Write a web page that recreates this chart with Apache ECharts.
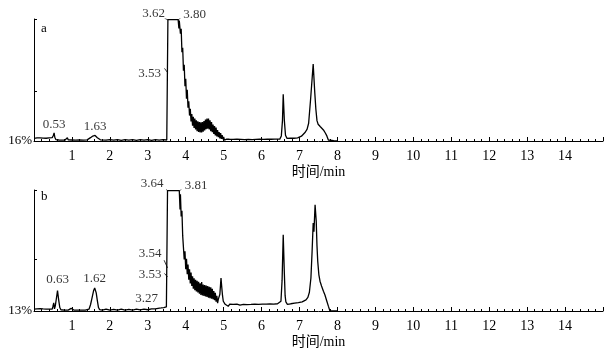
<!DOCTYPE html>
<html><head><meta charset="utf-8">
<script src="https://cdn.jsdelivr.net/npm/echarts@6/dist/echarts.min.js"></script>
<style>html,body{margin:0;padding:0;background:#fff}#c{width:611px;height:356px}</style>
</head><body><div id="c"></div>
<script>
const FONT = '"Liberation Serif", "Noto Sans CJK SC", serif';
const xTicks = [1,2,3,4,5,6,7,8,9,10,11,12,13,14];
const yTicksA = [50, 100];
const yTicksB = [50, 100];
const yLabelA = [16];
const yLabelB = [13];

// chromatogram a : [time/min, relative %]
const traceA = [
[0,17.8],[0.04,16.9],[0.08,18.1],[0.12,17.1],[0.16,18.2],[0.2,17.2],[0.24,18.0],[0.28,17.0],[0.32,17.9],[0.36,17.1],[0.40,18.1],[0.44,17.3],[0.48,18.3],[0.51,19.8],[0.53,21.6],[0.55,18.4],[0.58,16.9],[0.62,17.5],[0.66,16.7],[0.70,17.3],[0.74,16.6],[0.78,17.2],[0.82,16.7],[0.86,17.4],[0.88,18.3],[0.90,16.8],[0.95,17.3],[1.0,16.7],[1.05,17.2],[1.10,16.6],[1.15,17.2],[1.20,16.7],[1.25,17.2],[1.30,16.6],[1.35,17.2],[1.40,16.8],[1.45,17.5],[1.49,18.3],[1.52,19.0],[1.55,19.4],[1.58,19.0],[1.61,19.8],[1.64,19.2],[1.67,18.3],[1.70,17.2],[1.75,16.8],[1.8,17.1],[1.9,16.6],[2.0,17.0],[2.1,16.6],[2.2,16.9],[2.3,16.5],[2.4,16.9],[2.5,16.6],[2.6,16.9],[2.7,16.5],[2.8,16.9],[2.9,16.6],[3.0,16.9],[3.1,16.5],[3.2,16.9],[3.3,16.6],[3.4,16.9],[3.5,16.7],[3.525,16.7],
[3.53,99.6],[3.80,99.6],[3.81,99.4],[3.82,93.5],[3.83,99.0],[3.84,98.1],[3.86,89.9],[3.88,93.3],[3.90,77.1],[3.92,80.2],[3.94,64.4],[3.96,68.5],[3.98,53.7],[4.00,58.9],[4.02,45.1],[4.04,51.3],[4.06,38.9],[4.08,43.4],[4.10,33.5],[4.12,38.1],[4.14,29.4],[4.16,34.6],[4.18,26.6],[4.20,32.6],[4.22,25.0],[4.24,31.4],[4.26,23.9],[4.28,30.3],[4.30,22.8],[4.32,29.5],[4.34,22.2],[4.36,29.0],[4.38,21.9],[4.40,28.8],[4.42,21.9],[4.44,29.1],[4.46,22.4],[4.48,29.8],[4.50,23.2],[4.52,30.7],[4.54,24.1],[4.56,31.4],[4.58,24.5],[4.60,31.5],[4.62,24.0],[4.64,30.3],[4.66,22.7],[4.68,29.0],[4.70,22.0],[4.72,27.4],[4.74,20.9],[4.76,26.3],[4.78,19.8],[4.80,25.2],[4.82,19.1],[4.84,23.6],[4.86,18.6],[4.88,22.2],[4.90,17.8],[4.92,21.4],[4.94,17.5],[4.96,20.1],[4.98,17.2],[5.00,18.9],[5.02,16.6],[5.04,17.9],[5.06,16.4],[5.08,17.3],[5.10,16.7],
[5.15,17.2],[5.2,16.6],[5.25,17.1],[5.3,16.5],[5.35,17.2],[5.4,16.6],[5.45,17.1],[5.5,16.5],[5.55,17.0],[5.6,16.6],[5.65,17.1],[5.7,16.5],[5.75,17.0],[5.8,16.6],[5.85,17.1],[5.9,16.5],[5.95,17.2],[6.0,16.6],[6.05,17.1],[6.1,16.6],[6.15,17.2],[6.2,16.7],[6.25,17.2],[6.3,16.7],[6.35,17.3],[6.4,16.9],[6.48,17.3],[6.52,19.5],[6.55,30.0],[6.57,48.2],[6.60,30.0],[6.63,20.0],[6.67,17.8],[6.72,17.2],[6.76,17.9],[6.8,17.2],[6.85,17.9],[6.9,17.4],[6.95,18.2],[7.0,18.6],[7.05,19.3],[7.10,20.6],[7.15,22.0],[7.20,24.2],[7.24,28.2],[7.29,44.2],[7.36,69.0],[7.40,50.0],[7.43,38.0],[7.46,30.0],[7.49,27.5],[7.52,26.4],[7.55,25.8],[7.59,24.8],[7.63,23.6],[7.68,21.5],[7.72,19.5],[7.76,16.7],[7.80,16.3],[7.9,16.2],[8.0,16.1]
];

// chromatogram b : [time/min, relative %]
const traceB = [
[0,14.4],[0.04,13.5],[0.08,14.6],[0.12,13.7],[0.16,14.7],[0.2,13.8],[0.24,14.5],[0.28,13.6],[0.32,14.4],[0.36,13.7],[0.40,14.3],[0.44,13.6],[0.48,14.4],[0.50,16.5],[0.52,18.8],[0.54,14.5],[0.56,16.5],[0.59,22.0],[0.62,27.6],[0.65,21.0],[0.68,15.5],[0.71,13.9],[0.75,14.4],[0.8,13.7],[0.85,14.3],[0.9,13.6],[0.95,14.3],[0.98,14.9],[1.0,14.0],[1.05,13.7],[1.1,14.3],[1.15,13.6],[1.2,14.2],[1.25,13.7],[1.3,14.3],[1.35,13.7],[1.40,14.2],[1.45,14.3],[1.49,17.5],[1.53,22.5],[1.57,27.5],[1.60,29.5],[1.62,28.8],[1.64,26.0],[1.67,20.5],[1.70,15.5],[1.73,14.0],[1.8,13.7],[1.9,14.3],[2.0,13.6],[2.1,14.2],[2.2,13.7],[2.3,14.3],[2.4,13.7],[2.5,14.2],[2.6,13.7],[2.7,14.3],[2.8,13.8],[2.9,14.4],[3.0,13.9],[3.1,14.5],[3.2,14.6],[3.27,14.9],[3.35,15.2],[3.42,15.5],[3.49,15.9],[3.515,16.2],
[3.52,99.6],[3.83,99.6],[3.84,99.0],[3.85,86.0],[3.86,97.0],[3.88,81.0],[3.90,85.0],[3.92,67.0],[3.94,66.0],[3.96,50.0],[3.98,56.0],[4.00,43.0],[4.02,50.5],[4.04,39.5],[4.06,46.5],[4.08,35.5],[4.10,43.0],[4.12,32.8],[4.14,40.7],[4.16,31.0],[4.18,38.0],[4.20,29.1],[4.22,36.5],[4.24,28.0],[4.26,35.5],[4.28,27.0],[4.30,34.7],[4.32,26.3],[4.34,34.0],[4.36,25.5],[4.38,33.0],[4.40,24.5],[4.42,33.8],[4.44,24.2],[4.46,32.0],[4.48,23.8],[4.50,31.6],[4.52,23.4],[4.54,31.3],[4.56,23.1],[4.58,30.9],[4.60,22.6],[4.62,30.4],[4.64,22.2],[4.66,30.0],[4.68,21.9],[4.70,28.9],[4.72,21.4],[4.74,27.4],[4.76,20.8],[4.78,26.0],[4.80,19.7],[4.82,23.9],[4.84,18.7],[4.86,21.5],[4.88,20.5],[4.90,25.0],[4.92,33.0],[4.93,36.7],[4.95,30.0],[4.97,24.0],[4.99,20.0],[5.01,18.8],[5.04,17.8],[5.08,17.5],
[5.12,16.4],[5.16,17.9],[5.2,16.5],[5.25,17.8],[5.3,16.6],[5.35,17.9],[5.4,18.6],[5.43,17.2],[5.48,16.4],[5.52,17.8],[5.57,16.4],[5.62,17.6],[5.67,16.3],[5.72,17.7],[5.77,16.5],[5.82,17.9],[5.87,16.6],[5.92,17.8],[5.97,16.5],[6.02,17.9],[6.07,16.7],[6.12,18.0],[6.17,16.7],[6.22,18.1],[6.27,16.8],[6.32,18.0],[6.37,16.9],[6.42,18.2],[6.47,17.6],[6.51,20.0],[6.54,35.0],[6.57,67.9],[6.60,40.0],[6.62,24.0],[6.64,19.5],[6.68,17.8],[6.72,17.0],[6.77,18.2],[6.82,17.3],[6.87,18.6],[6.92,17.8],[6.97,19.0],[7.02,18.4],[7.07,19.6],[7.12,19.8],[7.17,21.0],[7.22,22.8],[7.26,26.5],[7.30,36.7],[7.33,55.0],[7.36,76.3],[7.38,70.0],[7.41,89.4],[7.44,77.7],[7.46,60.0],[7.48,48.7],[7.51,39.0],[7.54,34.4],[7.58,31.0],[7.63,27.2],[7.67,24.5],[7.72,20.0],[7.76,16.5],[7.80,13.2],[7.85,13.0],[8.0,13.0]
];

// retention-time annotations: [time, level, text]
const peakLabelsA = [[0.53,21.6,'0.53'],[1.61,19.7,'1.63'],[3.53,63.5,'3.53'],[3.53,99.6,'3.62'],[3.80,99.6,'3.80']];
const peakLabelsB = [[0.62,27.6,'0.63'],[1.60,29.5,'1.62'],[3.27,14.9,'3.27'],[3.52,37.5,'3.53'],[3.52,44.0,'3.54'],[3.52,99.6,'3.64'],[3.84,99.6,'3.81']];
// leader ticks: [[t1,v1],[t2,v2]]
const leadersA = [[[3.44,100.6],[3.53,99.4]],[[3.80,99.4],[3.92,102.0]],[[3.44,66.0],[3.53,62.8]]];
const leadersB = [[[3.42,103.0],[3.52,99.4]],[[3.84,99.4],[3.95,102.5]],[[3.43,49.5],[3.52,44.0]],[[3.44,40.0],[3.52,37.5]]];

const placeA = [
  {position:'top',distance:2},
  {position:'top',distance:3},
  {position:'left',distance:7,offset:[0,2]},
  {position:'left',distance:3,offset:[0,-6]},
  {position:'right',distance:5,offset:[0,-5]}
];
const placeB = [
  {position:'top',distance:5},
  {position:'top',distance:3},
  {position:'left',distance:0,offset:[0,-10]},
  {position:'left',distance:6,offset:[0,-2]},
  {position:'left',distance:6,offset:[0,-14]},
  {position:'left',distance:4,offset:[0,-7]},
  {position:'right',distance:5,offset:[0,-5]}
];

function xAxisCfg(gi){
  return {
    type:'value', gridIndex:gi, min:0, max:15, interval:1,
    axisLine:{onZero:false, lineStyle:{color:'#000',width:1}},
    axisTick:{inside:true,length:4,lineStyle:{color:'#000',width:1}},
    minorTick:{show:true,splitNumber:5,length:2,lineStyle:{color:'#000',width:1}},
    splitLine:{show:false}, minorSplitLine:{show:false},
    axisLabel:{customValues:xTicks, margin:8, color:'#000', fontSize:14, fontFamily:FONT},
    name:'时间/min', nameLocation:'middle', nameGap:24,
    nameTextStyle:{color:'#000', fontSize:14, fontFamily:FONT}
  };
}
function yAxisCfg(gi, mn, ticks, labs){
  return {
    type:'value', gridIndex:gi, min:mn, max:100,
    axisLine:{show:true, lineStyle:{color:'#000',width:1}},
    axisTick:{show:true, inside:true, length:3, customValues:ticks, lineStyle:{color:'#000'}},
    axisLabel:{customValues:labs, formatter:'{value}%', margin:2, color:'#000', fontSize:13, fontFamily:FONT},
    splitLine:{show:false}
  };
}
function traceSeries(idx, data){
  return {type:'line', xAxisIndex:idx, yAxisIndex:idx, data:data, showSymbol:false, symbol:'none',
    lineStyle:{color:'#000', width:1.3}, silent:true};
}
function labelSeries(idx, labs, place){
  return {type:'scatter', xAxisIndex:idx, yAxisIndex:idx, symbolSize:0, silent:true,
    data: labs.map((d,i)=>({value:[d[0],d[1]], label:Object.assign({show:true, formatter:d[2], color:'#000', fontSize:13, fontFamily:FONT}, place[i])}))};
}
function leaderSeries(idx, segs){
  return {type:'lines', coordinateSystem:'cartesian2d', xAxisIndex:idx, yAxisIndex:idx, silent:true,
    data: segs.map(s=>({coords:s})), lineStyle:{color:'#000', width:0.8, opacity:1}};
}

const chart = echarts.init(document.getElementById('c'), null, {renderer:'canvas'});
chart.setOption({
  animation:false,
  backgroundColor:'#fff',
  title:[
    {text:'a', left:41, top:22, padding:0, textStyle:{fontSize:13, fontWeight:'normal', color:'#000', fontFamily:FONT}},
    {text:'b', left:41, top:190, padding:0, textStyle:{fontSize:13, fontWeight:'normal', color:'#000', fontFamily:FONT}}
  ],
  grid:[
    {left:34, width:569, top:19, height:122},
    {left:34, width:569, top:190, height:121}
  ],
  xAxis:[xAxisCfg(0), xAxisCfg(1)],
  yAxis:[yAxisCfg(0,16,yTicksA,yLabelA), yAxisCfg(1,13,yTicksB,yLabelB)],
  series:[
    traceSeries(0, traceA), traceSeries(1, traceB),
    labelSeries(0, peakLabelsA, placeA), labelSeries(1, peakLabelsB, placeB),
    leaderSeries(0, leadersA), leaderSeries(1, leadersB)
  ]
});
</script>
</body></html>
